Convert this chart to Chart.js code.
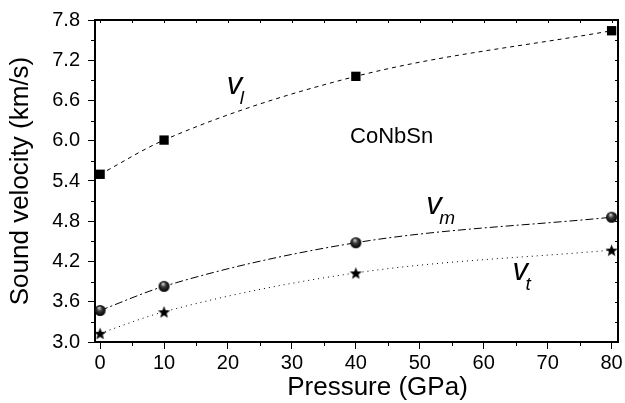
<!DOCTYPE html>
<html>
<head>
<meta charset="utf-8">
<title>CoNbSn sound velocity vs pressure</title>
<script src="https://cdn.jsdelivr.net/npm/chart.js@4.4.1/dist/chart.umd.min.js"></script>
<style>
    html, body { margin: 0; padding: 0; background: #fff; }
    #wrap { width: 625px; height: 403px; }
</style>
</head>
<body>
<div id="wrap"><canvas id="velChart"></canvas></div>
<script>
// values
const pressure = [0, 10, 40, 80];
const vLong = [5.50, 6.01, 6.96, 7.64];
const vMean = [3.47, 3.83, 4.48, 4.86];
const vTrans = [3.13, 3.45, 4.03, 4.37];

const xTicks = [0, 10, 20, 30, 40, 50, 60, 70, 80];
const xMinor = [5, 15, 25, 35, 45, 55, 65, 75];
const yTicks = [3.0, 3.6, 4.2, 4.8, 5.4, 6.0, 6.6, 7.2, 7.8];
const yMinor = [3.3, 3.9, 4.5, 5.1, 5.7, 6.3, 6.9, 7.5];

const FONT = '"Liberation Sans", Arial, sans-serif';

// shaded ball marker
const makeBall = (r) => {
    const c = document.createElement('canvas');
    c.width = c.height = Math.ceil(r * 2 + 2);
    const g = c.getContext('2d');
    const m = c.width / 2;
    const grad = g.createRadialGradient(m - r * 0.2, m - r * 0.5, r * 0.1, m, m, r);
    grad.addColorStop(0, '#c8c8c8');
    grad.addColorStop(0.4, '#3a3a3a');
    grad.addColorStop(1, '#000');
    g.fillStyle = grad;
    g.beginPath();
    g.arc(m, m, r, 0, Math.PI * 2);
    g.fill();
    return c;
};

// filled five point star marker
const makeStar = (R) => {
    const c = document.createElement('canvas');
    c.width = c.height = Math.ceil(R * 2 + 2);
    const g = c.getContext('2d');
    const cx = c.width / 2, cy = c.height / 2 + R * 0.1;
    g.beginPath();
    for (let i = 0; i < 10; i++) {
        const rad = i % 2 ? R * 0.42 : R;
        const ang = -Math.PI / 2 + i * Math.PI / 5;
        g.lineTo(cx + rad * Math.cos(ang), cy + rad * Math.sin(ang));
    }
    g.closePath();
    g.fillStyle = '#000';
    g.fill();
    return c;
};

const toPts = (ys) => pressure.map((p, i) => ({ x: p, y: ys[i] }));

// frame, minor ticks, labels
const framePlugin = {
    id: 'frame',
    afterDraw(chart) {
        const { ctx, chartArea: a, scales: { x, y } } = chart;
        const seg = (x1, y1, x2, y2) => {
            ctx.beginPath();
            ctx.moveTo(x1, y1);
            ctx.lineTo(x2, y2);
            ctx.stroke();
        };
        ctx.save();
        ctx.strokeStyle = '#000';
        ctx.lineWidth = 2;
        ctx.beginPath();
        ctx.moveTo(a.left, a.top);
        ctx.lineTo(a.right, a.top);
        ctx.lineTo(a.right, a.bottom);
        ctx.stroke();

        ctx.lineWidth = 1;
        xMinor.forEach(v => {
            const px = Math.round(x.getPixelForValue(v)) + 0.5;
            seg(px, a.bottom, px, a.bottom + 4);
        });
        yMinor.forEach(v => {
            const py = Math.round(y.getPixelForValue(v)) + 0.5;
            seg(a.left - 4, py, a.left, py);
        });
        // mirrored ticks inside top and right
        [...xTicks, ...xMinor].forEach(v => {
            const px = Math.round(x.getPixelForValue(v)) + 0.5;
            seg(px, a.top, px, a.top + 3);
        });
        [...yTicks, ...yMinor].forEach(v => {
            const py = Math.round(y.getPixelForValue(v)) + 0.5;
            seg(a.right - 3, py, a.right, py);
        });

        // x axis title
        ctx.fillStyle = '#000';
        ctx.textAlign = 'center';
        ctx.textBaseline = 'alphabetic';
        ctx.font = `26px ${FONT}`;
        ctx.fillText('Pressure (GPa)', (a.left + a.right) / 2 + 21, 395);

        // series labels
        const sym = (sub, xv, yv) => {
            const px = x.getPixelForValue(xv), py = y.getPixelForValue(yv);
            ctx.textAlign = 'left';
            ctx.font = `italic 31px ${FONT}`;
            ctx.fillText('v', px, py);
            ctx.font = `italic 19px ${FONT}`;
            ctx.fillText(sub, px + 13, py + 10);
        };
        sym('l', 19.8, 6.70);
        sym('m', 51.0, 4.905);
        sym('t', 64.5, 3.93);

        ctx.textAlign = 'left';
        ctx.font = `22px ${FONT}`;
        ctx.fillText('CoNbSn', x.getPixelForValue(39.1), y.getPixelForValue(5.97));
        ctx.restore();
    }
};

const ctx = document.getElementById('velChart').getContext('2d');
new Chart(ctx, {
    type: 'scatter',
    data: {
        datasets: [
            {
                label: 'v_l',
                data: toPts(vLong),
                showLine: true,
                borderColor: '#000',
                borderWidth: 1,
                borderDash: [4, 4],
                cubicInterpolationMode: 'monotone',
                pointStyle: 'rect',
                pointRadius: 6.6,
                pointBackgroundColor: '#000',
                pointBorderWidth: 0
            },
            {
                label: 'v_m',
                data: toPts(vMean),
                showLine: true,
                borderColor: '#000',
                borderWidth: 1,
                borderDash: [8, 3, 2, 3],
                cubicInterpolationMode: 'monotone',
                pointStyle: makeBall(5.5),
                pointRadius: 6
            },
            {
                label: 'v_t',
                data: toPts(vTrans),
                showLine: true,
                borderColor: '#000',
                borderWidth: 1,
                borderDash: [1, 4],
                cubicInterpolationMode: 'monotone',
                pointStyle: makeStar(6.5),
                pointRadius: 6
            }
        ]
    },
    options: {
        responsive: true,
        maintainAspectRatio: false,
        animation: false,
        devicePixelRatio: 1,
        layout: { padding: { top: 17, right: 2, left: 0, bottom: 0 } },
        plugins: {
            legend: { display: false },
            tooltip: { enabled: false }
        },
        scales: {
            x: {
                type: 'linear',
                min: -0.8,
                max: 81,
                afterBuildTicks: s => { s.ticks = xTicks.map(v => ({ value: v })); },
                afterFit: s => { s.height = 61; s.paddingLeft = 0; s.paddingRight = 0; },
                grid: { drawOnChartArea: false, drawTicks: true, tickLength: 7, color: '#000', lineWidth: 1 },
                border: { display: true, color: '#000', width: 2 },
                ticks: { color: '#000', padding: 2, maxRotation: 0, font: { family: FONT, size: 20 } }
            },
            y: {
                min: 3.0,
                max: 7.8,
                afterBuildTicks: s => { s.ticks = yTicks.map(v => ({ value: v })); },
                afterFit: s => { s.width = 95; },
                grid: { drawOnChartArea: false, drawTicks: true, tickLength: 7, color: '#000', lineWidth: 1 },
                border: { display: true, color: '#000', width: 2 },
                ticks: {
                    color: '#000',
                    padding: 8,
                    font: { family: FONT, size: 20 },
                    callback: v => Number(v).toFixed(1)
                },
                title: {
                    display: true,
                    text: 'Sound velocity (km/s)',
                    color: '#000',
                    padding: { top: 5, bottom: 0 },
                    font: { family: FONT, size: 26 }
                }
            }
        }
    },
    plugins: [framePlugin]
});
</script>
</body>
</html>
